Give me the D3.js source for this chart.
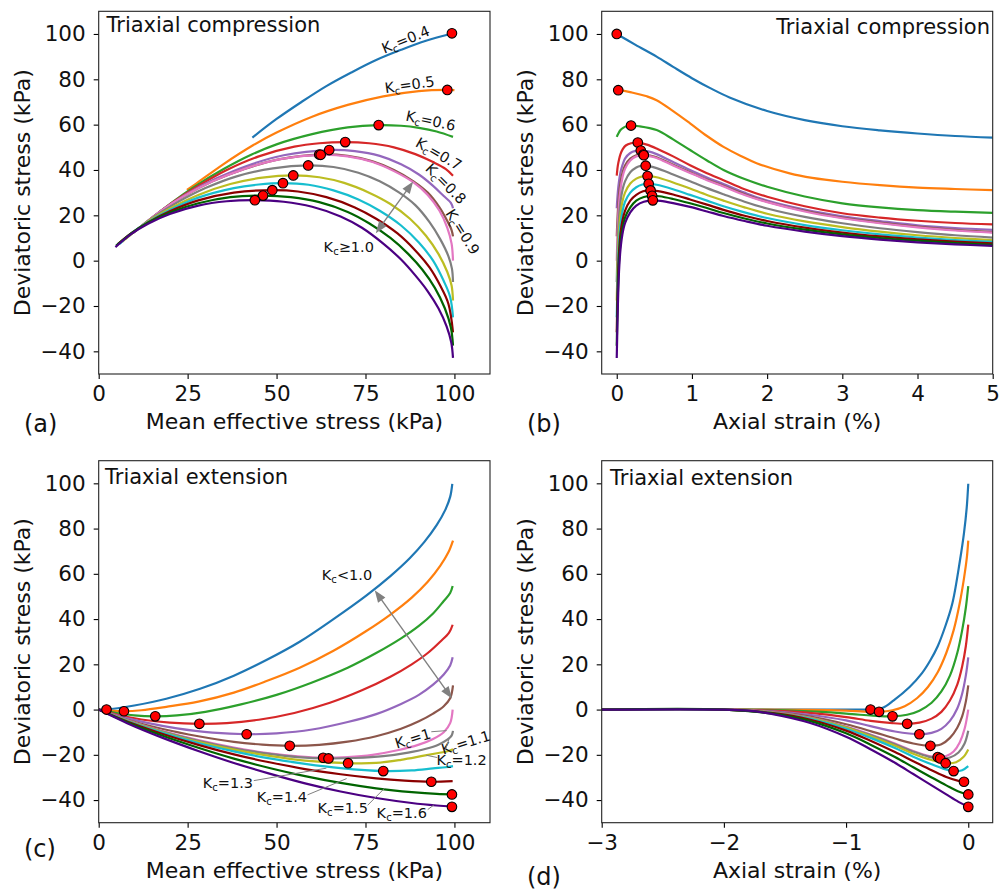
<!DOCTYPE html>
<html><head><meta charset="utf-8">
<script src="https://cdn.jsdelivr.net/npm/d3@7"></script>
<style>body{margin:0;background:#fff} text{font-family:"DejaVu Sans",sans-serif;fill:#111}</style>
</head><body><svg id="c" width="1001" height="894"></svg>
<script>
const kValues=[0.4,0.5,0.6,0.7,0.8,0.9,1.0,1.1,1.2,1.3,1.4,1.5,1.6];
const colors=["#1f77b4","#ff7f0e","#2ca02c","#d62728","#9467bd","#8c564b","#e377c2","#7f7f7f","#bcbd22","#17becf","#8b0000","#006400","#4b0082"];
const qTicks=[-40,-20,0,20,40,60,80,100];
const pTicks=[0,25,50,75,100];
const strainTicksComp=[0,1,2,3,4,5];
const strainTicksExt=[-3,-2,-1,0];

// (a) compression: [p, q]
const compPQ=[
[[43.2,54.3],[50,62.5],[57,70],[64,77],[71,83],[78,88.5],[85,93],[92,97],[99.4,100.2]],
[[24.8,31.2],[27.5,34.1],[35,42.5],[43.5,51],[50,56.5],[60,63.5],[70,68.7],[80,72.5],[90,74.8],[98,75.3],[100,75.2]],
[[16.8,21.2],[22,27.3],[27.5,33.2],[35,40.3],[43,46.8],[50,51.3],[60,55.8],[70,58.8],[78.7,59.8],[85,59.5],[90,58.6],[95,57],[99.6,54.6]],
[[12.7,16],[17,21.3],[22,27],[28,33],[36,40],[45,46],[55,50.3],[62,51.8],[69.3,52.3],[76,51.8],[83,50],[89,47],[94,43.5],[97.5,40.5],[99.6,37.5]],
[[10.8,13.6],[14,17.8],[19,23.5],[25,29.7],[33,36.2],[42,42],[52,46.5],[64.8,48.8],[72,48.3],[79,46.2],[85,42.5],[90,38],[94,33],[97,28.5],[99,25.5],[99.6,23.1]],
[[9.6,12.1],[13,16.5],[18,22.5],[24,28.5],[32,35],[41,40.5],[51,44.8],[62,46.8],[70,46.2],[77,43.8],[83,40],[88.5,35],[92.5,30],[95.8,23.5],[98,17.5],[99.2,13.5],[99.6,10.7]],
[[9.9,12.5],[13,16.5],[18,22.5],[24,28.5],[32,35],[41,40.5],[51,44.8],[62.4,46.7],[70,46],[77,43.5],[83,39.5],[88.5,34.5],[92.5,29],[95.8,22],[98,14.5],[99.2,7.5],[99.6,0]],
[[7.6,9.6],[11,14],[16,19.8],[22,25.6],[30,32],[39,37.3],[49,40.7],[58.9,42],[66,41.3],[73,38.8],[79,35],[84.5,30],[89,24.5],[93,17],[96,9.5],[98.3,2],[99.3,-3.5],[99.6,-9.4]],
[[6.6,8.3],[10,12.8],[15,18.5],[21,23.8],[28,29],[37,33.8],[46,36.6],[54.7,37.6],[62,36.8],[69,34.3],[76,30],[82,25],[87.5,18.5],[92,11],[95.5,3],[98,-5],[99.2,-11],[99.6,-17.6]],
[[5.9,7.4],[9,11.9],[14,17.2],[20,22.3],[28,27.8],[38,32],[45,33.6],[51.8,34.2],[59,33.5],[66,31],[73,27],[79,22],[85,15.5],[90,8],[94,0],[97,-9],[98.8,-16],[99.6,-25]],
[[5.3,7.2],[9,11.9],[14,17],[20,21.8],[28,26.6],[38,30],[48.8,31.1],[56,30.5],[64,28],[72,23.5],[78,18.5],[84,12],[89,4.5],[93,-3],[96,-11],[98.3,-19],[99.6,-31.6]],
[[4.9,6.6],[9,11.8],[14,16.8],[20,21.2],[28,25.3],[37,28],[46.2,28.7],[54,28],[62,25.8],[70,21.5],[76,16.5],[82,10],[87,3],[91,-4],[94.5,-12],[97.3,-21],[99,-29.5],[99.6,-37.5]],
[[4.7,6],[9,11.6],[14,16.4],[20,20.6],[28,24.3],[36,26.2],[43.9,26.7],[52,26],[60,23.8],[68,19.5],[74,14.5],[80,7.5],[85,0.5],[89,-6.5],[92.5,-13.5],[95.5,-21],[97.8,-29],[99.1,-36],[99.6,-42.9]]
];
const compPeakPQ=[[99.3,100.3],[98,75.3],[78.7,59.8],[69.3,52.3],[64.8,48.8],[62,46.8],[62.4,46.7],[58.9,42],[54.7,37.6],[51.8,34.2],[48.8,31.1],[46.2,28.7],[43.9,26.7]];

// (b) compression: [axial strain %, q]
const compStrain=[
[[0,100],[0.25,95.2],[0.53,90],[0.75,85.5],[1,80.5],[1.25,76],[1.5,72],[2,66],[2.5,62],[3,59.3],[3.5,57.5],[4,56.1],[4.5,55],[5,54.3]],
[[0,75],[0.02,75.2],[0.2,74.2],[0.4,72.5],[0.53,70.8],[0.75,66],[0.975,60.6],[1.2,55],[1.42,50.2],[1.65,46.2],[1.86,43],[2.3,38.5],[2.6,36.5],[3,34.8],[3.5,33.3],[4,32.2],[4.5,31.6],[5,31.1]],
[[0,54.6],[0.02,56],[0.05,57.6],[0.09,58.7],[0.14,59.4],[0.19,59.6],[0.3,59.3],[0.53,57.6],[0.75,53.5],[0.975,48.8],[1.2,44.2],[1.42,40],[1.7,36],[2,32.6],[2.5,28.3],[3,25.3],[3.5,23.5],[4,22.3],[4.5,21.6],[5,21.1]],
[[0,37.5],[0.005,39.3],[0.015,42],[0.03,44.5],[0.05,47],[0.08,49.2],[0.12,50.8],[0.19,51.8],[0.28,52.1],[0.4,51.2],[0.53,49.5],[0.75,46],[0.975,42.1],[1.2,38.6],[1.42,35.5],[1.7,31.5],[2,28.2],[2.5,24],[3,20.9],[3.5,19],[4,17.6],[4.5,16.6],[5,16]],
[[0,23.1],[0.005,26],[0.015,30.5],[0.03,35],[0.05,39],[0.075,42],[0.11,45],[0.18,47.5],[0.25,48.4],[0.32,48.6],[0.42,48.2],[0.53,47],[0.75,43.5],[0.975,40],[1.2,36.7],[1.42,33.8],[1.7,30],[2,26.5],[2.5,22.5],[3,19.6],[3.5,17.5],[4,15.6],[4.5,14.4],[5,13.6]],
[[0,10.7],[0.005,15],[0.015,22],[0.03,29],[0.05,34.5],[0.075,38.5],[0.11,42],[0.18,45],[0.26,46.5],[0.355,46.8],[0.45,46.3],[0.53,45.6],[0.75,42.3],[0.975,39],[1.2,35.8],[1.42,33],[1.7,29.3],[2,26],[2.5,22],[3,19],[3.5,16.8],[4,15],[4.5,13.6],[5,12.6]],
[[0,0],[0.005,6],[0.015,16],[0.03,25],[0.05,31.5],[0.075,36.5],[0.11,40.5],[0.18,44.2],[0.26,46],[0.36,46.5],[0.45,46],[0.53,45.3],[0.75,42],[0.975,38.7],[1.2,35.5],[1.42,32.7],[1.7,29],[2,25.8],[2.5,21.7],[3,18.7],[3.5,16.5],[4,14.7],[4.5,13.3],[5,12.4]],
[[0,-9.4],[0.005,-2],[0.015,9],[0.03,19],[0.05,26],[0.075,31],[0.11,35],[0.18,39],[0.26,41.1],[0.32,41.8],[0.385,41.9],[0.53,40.8],[0.75,38],[0.975,35],[1.2,32],[1.42,29.3],[1.7,26],[2,23],[2.5,19.3],[3,16.5],[3.5,14.3],[4,12.6],[4.5,11.2],[5,10.2]],
[[0,-17.6],[0.005,-10],[0.015,2],[0.03,13],[0.05,20.5],[0.075,26],[0.11,30],[0.18,34],[0.26,36.2],[0.33,37.1],[0.41,37.3],[0.53,36.8],[0.75,34.5],[0.975,31.8],[1.2,29],[1.42,26.5],[1.7,23.5],[2,20.7],[2.5,17.3],[3,14.8],[3.5,12.8],[4,11.2],[4.5,10],[5,9.1]],
[[0,-25],[0.005,-17],[0.015,-4],[0.03,8],[0.05,16],[0.075,21.5],[0.11,26],[0.18,30],[0.26,32.4],[0.34,33.6],[0.425,33.9],[0.53,33.5],[0.75,31.5],[0.975,29],[1.2,26.5],[1.42,24],[1.7,21.3],[2,18.8],[2.5,15.7],[3,13.4],[3.5,11.6],[4,10.2],[4.5,9.1],[5,8.3]],
[[0,-31.6],[0.005,-23],[0.015,-9],[0.03,3.5],[0.05,12],[0.075,17.5],[0.11,22],[0.18,26.5],[0.26,29],[0.35,30.6],[0.45,31],[0.55,30.7],[0.75,29.2],[0.975,27],[1.2,24.7],[1.42,22.4],[1.7,19.8],[2,17.5],[2.5,14.6],[3,12.4],[3.5,10.7],[4,9.4],[4.5,8.4],[5,7.6]],
[[0,-37.5],[0.005,-29],[0.015,-15],[0.03,-1],[0.05,8],[0.075,14],[0.11,19],[0.18,23.5],[0.26,26.5],[0.36,28.1],[0.47,28.6],[0.57,28.4],[0.75,27.2],[0.975,25.3],[1.2,23.2],[1.42,21],[1.7,18.6],[2,16.4],[2.5,13.7],[3,11.6],[3.5,10],[4,8.8],[4.5,7.8],[5,7]],
[[0,-42.9],[0.005,-35],[0.015,-20],[0.03,-5],[0.05,5],[0.075,11.5],[0.11,16.5],[0.18,21.3],[0.26,24.3],[0.36,26],[0.48,26.6],[0.58,26.4],[0.75,25.4],[0.975,23.7],[1.2,21.7],[1.42,19.7],[1.7,17.5],[2,15.4],[2.5,12.8],[3,10.8],[3.5,9.3],[4,8.1],[4.5,7.2],[5,6.5]]
];
const compPeakStrain=[[0,100],[0.02,75.2],[0.19,59.6],[0.28,52.1],[0.32,48.6],[0.355,46.8],[0.36,46.5],[0.385,41.9],[0.41,37.3],[0.425,33.9],[0.45,31],[0.47,28.6],[0.48,26.6]];

// (c) extension: [p, q]
const extPQ=[
[[0,0],[2.2,0],[10,1.8],[19,4.8],[28.5,9.2],[38,15],[47,21.8],[56.5,30],[66,40],[75.3,50.5],[82,59],[87.5,67],[91.5,74],[95,81.5],[97.5,88.5],[98.8,94],[99.4,99.8]],
[[0,0],[3,-0.5],[7.1,-0.75],[12,-0.3],[19,1.2],[28,3.5],[38,7.5],[47,12.5],[56.5,18.5],[66,26],[75,34.5],[82,42],[88,49.5],[92.5,56.5],[96,63.5],[98.3,69.5],[99.6,74.7]],
[[0,0],[5,-1.5],[10,-2.6],[15.9,-3],[22,-2.6],[30,-1],[40,2.3],[50,6.5],[60,12],[70,18.5],[78,25],[85,31.5],[90,37],[94,42.5],[97,48],[98.8,51.5],[99.5,54.6]],
[[0,0],[5,-2.2],[12,-4.4],[20,-5.8],[28.3,-6.3],[36,-6],[45,-4.5],[55,-1.5],[65,3],[74,8.5],[82,14.5],[88,20],[92.5,25],[96,30],[98.5,34],[99.5,37.5]],
[[0,0],[6,-3],[14,-6],[22,-8.3],[32,-10.2],[41.6,-10.9],[50,-10.5],[60,-8.8],[70,-5.5],[78,-2],[85,2.5],[90,6.5],[94,11],[97,15.5],[98.8,19.5],[99.5,23.1]],
[[0,0],[8,-4.5],[18,-8.6],[28,-11.8],[38,-14.3],[46,-15.5],[53.7,-16],[62,-15.6],[70,-14.2],[78,-11.8],[85,-8.5],[90,-5.2],[94,-1.8],[97,1.5],[98.8,5],[99.6,10.7]],
[[0,0],[8,-4.7],[18,-9.5],[28,-13.5],[38,-16.8],[48,-19.3],[56,-20.7],[63.1,-21.3],[70,-21],[77,-20],[84,-18],[90,-15.5],[94,-13],[97,-10],[98.8,-6],[99.5,0]],
[[0,0],[8,-4.8],[18,-9.7],[28,-13.8],[38,-17.1],[48,-19.6],[56,-21],[64.6,-21.6],[72,-21.4],[80,-20.6],[87,-19],[92,-17.3],[95.5,-15.5],[98,-13.3],[99.2,-11.5],[99.6,-9.4]],
[[0,0],[8,-5],[18,-10],[28,-14.3],[38,-17.7],[48,-20.5],[58,-22.6],[70.1,-23.7],[78,-23.6],[85,-22.2],[91,-20.5],[95.5,-19.2],[98.3,-18.3],[99.6,-17.6]],
[[0,0],[8,-5.1],[18,-10.3],[28,-14.8],[38,-18.5],[48,-21.6],[58,-24],[68,-25.9],[80,-27.2],[88,-26.9],[94,-26],[97.5,-25.5],[99.6,-25]],
[[0,0],[8,-5.3],[18,-10.8],[28,-15.6],[38,-19.8],[48,-23.3],[58,-26.3],[68,-28.6],[78,-30.4],[86,-31.4],[93.5,-31.9],[99.5,-31.6]],
[[0,0],[8,-5.6],[18,-11.6],[28,-16.9],[38,-21.7],[48,-25.8],[58,-29.4],[68,-32.4],[78,-34.8],[88,-36.5],[95,-37.3],[99.5,-37.5]],
[[0,0],[8,-6],[18,-12.5],[28,-18.3],[38,-23.6],[48,-28.3],[58,-32.6],[68,-36.2],[78,-39.1],[88,-41.3],[95,-42.4],[99.5,-42.9]]
];
const extPeakPQ=[[2.2,0],[7.1,-0.75],[15.9,-3],[28.3,-6.3],[41.6,-10.9],[53.7,-16],[63.1,-21.3],[64.6,-21.6],[70.1,-23.7],[80,-27.2],[93.5,-31.9],[99.3,-37.5],[99.3,-43]];

// (d) extension: [axial strain %, q]
const extStrain=[
[[-3,0],[-2,0],[-1.2,0],[-0.9,0],[-0.8,0],[-0.7,0.8],[-0.61,4.1],[-0.48,10],[-0.38,16],[-0.31,21.8],[-0.25,28],[-0.19,36.5],[-0.13,47],[-0.068,65.9],[-0.035,78],[-0.013,89],[0,99.8]],
[[-3,0],[-2,0],[-1.3,-0.1],[-1,-0.5],[-0.85,-0.9],[-0.73,-1],[-0.62,-0.3],[-0.52,1.5],[-0.42,5],[-0.33,10],[-0.25,16.5],[-0.18,25],[-0.12,35],[-0.07,47],[-0.035,58],[-0.012,67],[0,74.7]],
[[-3,0],[-2,0],[-1.5,-0.3],[-1.2,-1],[-0.95,-2],[-0.78,-2.7],[-0.62,-3],[-0.5,-2.3],[-0.4,-0.5],[-0.3,3],[-0.22,8],[-0.15,15],[-0.09,25],[-0.05,35],[-0.02,45],[0,54.6]],
[[-3,0],[-2,0],[-1.6,-0.5],[-1.3,-1.5],[-1,-3.3],[-0.8,-5],[-0.62,-6],[-0.5,-6.3],[-0.4,-5.8],[-0.3,-4],[-0.22,-1],[-0.15,4],[-0.09,11],[-0.05,19],[-0.02,28],[0,37.5]],
[[-3,0],[-2,0],[-1.6,-0.8],[-1.3,-2.3],[-1,-4.8],[-0.8,-7.3],[-0.6,-9.7],[-0.4,-10.9],[-0.3,-10.3],[-0.22,-8.5],[-0.15,-5],[-0.09,0.5],[-0.05,7],[-0.02,15],[0,23.1]],
[[-3,0],[-2,0],[-1.6,-1],[-1.3,-3],[-1,-6.5],[-0.8,-9.5],[-0.6,-12.8],[-0.45,-15],[-0.31,-16],[-0.22,-15.3],[-0.15,-12.5],[-0.09,-8],[-0.05,-3],[-0.02,3.5],[0,10.7]],
[[-3,0],[-2,0],[-1.6,-1.2],[-1.3,-3.5],[-1,-7.5],[-0.8,-11],[-0.6,-15],[-0.45,-18.3],[-0.32,-20.5],[-0.25,-21],[-0.18,-20.5],[-0.12,-18.5],[-0.07,-14.5],[-0.03,-8.5],[0,0]],
[[-3,0],[-2,0],[-1.6,-1.3],[-1.3,-3.6],[-1,-7.7],[-0.8,-11.3],[-0.6,-15.3],[-0.45,-18.6],[-0.32,-20.9],[-0.23,-21.6],[-0.15,-21.2],[-0.08,-19],[-0.03,-15],[0,-9.4]],
[[-3,0],[-2,0],[-1.6,-1.4],[-1.3,-3.8],[-1,-8],[-0.8,-11.8],[-0.6,-16],[-0.45,-19.5],[-0.3,-22.3],[-0.185,-23.7],[-0.1,-23.3],[-0.04,-21],[0,-17.6]],
[[-3,0],[-2,0],[-1.6,-1.5],[-1.3,-4],[-1,-8.5],[-0.8,-12.5],[-0.6,-17],[-0.45,-20.8],[-0.3,-24.2],[-0.2,-26.2],[-0.12,-27.2],[-0.05,-26.8],[0,-25]],
[[-3,0],[-2,0],[-1.6,-1.6],[-1.3,-4.4],[-1,-9.3],[-0.8,-13.8],[-0.6,-18.8],[-0.45,-22.8],[-0.3,-26.8],[-0.18,-29.8],[-0.08,-31.5],[-0.035,-31.9],[0,-31.6]],
[[-3,0],[-2,0],[-1.6,-1.8],[-1.3,-5],[-1,-10.5],[-0.8,-15.5],[-0.6,-21],[-0.45,-25.5],[-0.3,-30],[-0.18,-33.5],[-0.08,-36.2],[0,-37.5]],
[[-3,0],[-2,0],[-1.8,-0.5],[-1.6,-2],[-1.3,-5.8],[-1,-12],[-0.8,-17.5],[-0.6,-23.5],[-0.45,-28.5],[-0.3,-33.5],[-0.18,-37.5],[-0.08,-40.8],[0,-42.9]]
];
const extPeakStrain=[[-0.8,0],[-0.73,-1],[-0.62,-3],[-0.5,-6.3],[-0.4,-10.9],[-0.31,-16],[-0.25,-21],[-0.23,-21.6],[-0.185,-23.7],[-0.12,-27.2],[-0.035,-31.9],[0,-37.5],[0,-43]];

const svg=d3.select('#c');
const TICKFS=21.5, LABFS=22, TITFS=21, KFS=14.5;

function makePanel(id,x0,x1,y0,y1,xd,xt){
  const x=d3.scaleLinear().domain(xd).range([x0,x1]);
  const y=d3.scaleLinear().domain([-50,110]).range([y1,y0]);
  const g=svg.append('g');
  svg.append('clipPath').attr('id','clip'+id).append('rect').attr('x',x0).attr('y',y0).attr('width',x1-x0).attr('height',y1-y0);
  const cg=g.append('g').attr('clip-path',`url(#clip${id})`);
  const ax=g.append('g').attr('transform',`translate(0,${y1})`).call(d3.axisBottom(x).tickValues(xt).tickSize(5).tickPadding(7).tickFormat(d3.format('d')));
  const ay=g.append('g').attr('transform',`translate(${x0},0)`).call(d3.axisLeft(y).tickValues(qTicks).tickSize(5).tickPadding(8).tickFormat(d3.format('d')));
  [ax,ay].forEach(a=>{a.select('.domain').remove();a.selectAll('line').attr('stroke','#000').attr('stroke-width',1.1);
    a.selectAll('text').attr('font-size',TICKFS).attr('font-family','DejaVu Sans').attr('fill','#111');});
  g.append('rect').attr('x',x0).attr('y',y0).attr('width',x1-x0).attr('height',y1-y0).attr('fill','none').attr('stroke','#222').attr('stroke-width',1.1);
  return {x,y,g,cg};
}
function drawCurves(P,curves,peaks){
  const line=d3.line().x(d=>P.x(d[0])).y(d=>P.y(d[1])).curve(d3.curveCatmullRom.alpha(0.5));
  P.cg.selectAll('path.c').data(curves).join('path').attr('class','c').attr('d',line)
    .attr('fill','none').attr('stroke',(d,i)=>colors[i]).attr('stroke-width',2.2).attr('stroke-linecap','butt');
  P.g.selectAll('circle.pk').data(peaks).join('circle').attr('class','pk')
    .attr('cx',d=>P.x(d[0])).attr('cy',d=>P.y(d[1])).attr('r',4.8)
    .attr('fill','#ff0000').attr('stroke','#000').attr('stroke-width',1.1);
}
function kLabel(P,px,q,rot,rest,anchor){
  const t=P.g.append('text').attr('transform',`translate(${P.x(px)},${P.y(q)}) rotate(${rot})`)
    .attr('text-anchor',anchor||'middle').attr('font-size',KFS).attr('y',5);
  t.append('tspan').text('K');
  t.append('tspan').text('c').attr('font-size',KFS*0.7).attr('dy',3);
  t.append('tspan').text(rest).attr('dy',-3);
}
function leader(P,a,b){
  P.g.append('line').attr('x1',P.x(a[0])).attr('y1',P.y(a[1])).attr('x2',P.x(b[0])).attr('y2',P.y(b[1]))
   .attr('stroke','#808080').attr('stroke-width',1);
}
function dblArrow(P,a,b){
  const x1=P.x(a[0]),y1=P.y(a[1]),x2=P.x(b[0]),y2=P.y(b[1]);
  const ang=Math.atan2(y2-y1,x2-x1),L=12,Wd=4.5;
  P.g.append('line').attr('x1',x1+Math.cos(ang)*L*0.8).attr('y1',y1+Math.sin(ang)*L*0.8)
    .attr('x2',x2-Math.cos(ang)*L*0.8).attr('y2',y2-Math.sin(ang)*L*0.8).attr('stroke','#808080').attr('stroke-width',1.4);
  [[x1,y1,ang+Math.PI],[x2,y2,ang]].forEach(([x,y,a2])=>{
    const bx=x-Math.cos(a2)*L,by=y-Math.sin(a2)*L,ox=-Math.sin(a2)*Wd,oy=Math.cos(a2)*Wd;
    P.g.append('path').attr('d',`M${x},${y}L${bx+ox},${by+oy}L${bx-ox},${by-oy}Z`).attr('fill','#808080');
  });
}
function txt(x,y,s,fs,anchor,rot){
  const t=svg.append('text').attr('font-size',fs).attr('text-anchor',anchor||'start').text(s);
  if(rot) t.attr('transform',`translate(${x},${y}) rotate(${rot})`); else t.attr('x',x).attr('y',y);
  return t;
}

const A=makePanel('a',98.7,490,11.3,374,[0,110],pTicks);
const B=makePanel('b',601.7,992.7,11.3,374,[-0.2,5],strainTicksComp);
const C=makePanel('c',98.7,490,460.7,822.7,[0,110],pTicks);
const D=makePanel('d',601.7,992.7,460.7,822.7,[-3,0.2],strainTicksExt);

drawCurves(A,compPQ,compPeakPQ);
drawCurves(B,compStrain,compPeakStrain);
drawCurves(C,extPQ,extPeakPQ);
drawCurves(D,extStrain,extPeakStrain);

// titles
txt(106.5,32,'Triaxial compression',TITFS,'start');
txt(990,34,'Triaxial compression',TITFS,'end');
txt(105,484,'Triaxial extension',TITFS,'start');
txt(610,485,'Triaxial extension',TITFS,'start');
// axis labels
txt(294.4,429,'Mean effective stress (kPa)',LABFS,'middle');
txt(797.2,429,'Axial strain (%)',LABFS,'middle');
txt(294.4,878,'Mean effective stress (kPa)',LABFS,'middle');
txt(797.2,878,'Axial strain (%)',LABFS,'middle');
txt(30,192.7,'Deviatoric stress (kPa)',LABFS,'middle',-90);
txt(533,192.7,'Deviatoric stress (kPa)',LABFS,'middle',-90);
txt(30,641.7,'Deviatoric stress (kPa)',LABFS,'middle',-90);
txt(533,641.7,'Deviatoric stress (kPa)',LABFS,'middle',-90);
// panel letters
txt(24,432,'(a)',24,'start');
txt(527,432,'(b)',24,'start');
txt(24,857,'(c)',24,'start');
txt(527,885,'(d)',24,'start');

// (a) annotations
kLabel(A,86.3,97.5,-22,'=0.4');
kLabel(A,87.4,77.6,-8,'=0.5');
kLabel(A,93.3,61.7,12,'=0.6');
kLabel(A,95.6,47.1,30,'=0.7');
kLabel(A,97.6,33.9,45,'=0.8');
kLabel(A,102.3,12.7,58,'=0.9');
kLabel(A,70.3,6,0,'\u22651.0');
dblArrow(A,[77.9,12.1],[88.4,34.9]);

// (c) annotations
kLabel(C,69.8,59.3,0,'<1.0');
dblArrow(C,[77.6,52.7],[99.3,4.9]);
kLabel(C,88.3,-12.8,-17,'=1');
leader(C,[93.5,-9.8],[97.8,-9.3]);
kLabel(C,103.2,-14.6,-17,'=1.1');
leader(C,[97.5,-17.6],[98.6,-12.5]);
kLabel(C,102,-22.4,0,'=1.2');
leader(C,[95.2,-21.2],[92.1,-20.2]);
kLabel(C,36.3,-32.6,0,'=1.3');
leader(C,[43.6,-31.4],[64,-25.9]);
kLabel(C,51.5,-38.8,0,'=1.4');
leader(C,[58.7,-37.7],[69.7,-30.5]);
kLabel(C,68.6,-43.6,0,'=1.5');
leader(C,[75.6,-42.3],[80.4,-34.7]);
kLabel(C,85.2,-45.8,0,'=1.6');
leader(C,[92.5,-44.2],[94.2,-42.2]);
</script></body></html>
